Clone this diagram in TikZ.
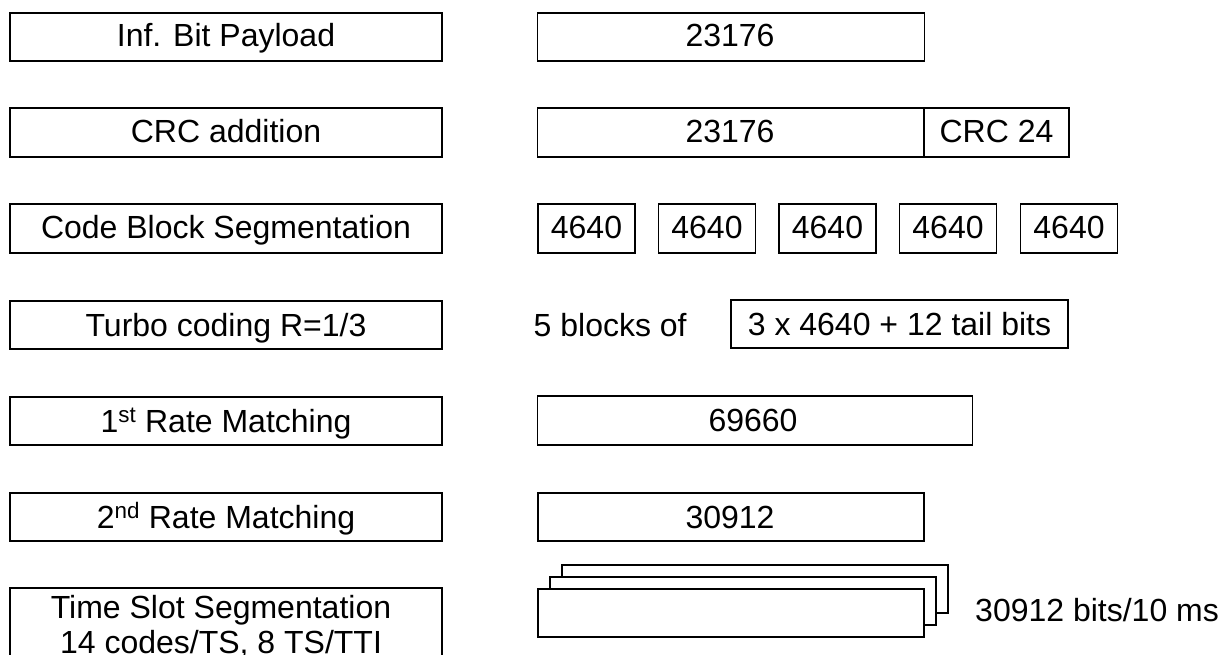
\documentclass[tikz,border=0pt]{standalone}
\usepackage{fontspec}
\setmainfont{Liberation Sans}
\begin{document}
\begin{tikzpicture}[x=1pt,y=-1pt,
  box/.style={draw, line width=1.5pt, inner sep=0pt, fill=white},
  lbl/.style={anchor=base, inner sep=0pt, font=\fontsize{32}{36}\selectfont}]
\clip (0,0) rectangle (1221,655);
\fill[white] (0,0) rectangle (1221,655);
% left column
\node[box, minimum width=432pt, minimum height=48pt] (l1) at (226,37) {};
\node[box, minimum width=432pt, minimum height=49pt] (l2) at (226,132.5) {};
\node[box, minimum width=432pt, minimum height=49pt] (l3) at (226,228.5) {};
\node[box, minimum width=432pt, minimum height=48pt] (l4) at (226,325) {};
\node[box, minimum width=432pt, minimum height=48pt] (l5) at (226,421) {};
\node[box, minimum width=432pt, minimum height=48pt] (l6) at (226,517) {};
\node[box, minimum width=432pt, minimum height=102pt] (l7) at (226,639) {};
\node[lbl] (t1) at (226,47) {Inf. Bit Payload};
\node[lbl] (t2) at (226,143) {CRC addition};
\node[lbl] (t3) at (226,239) {Code Block Segmentation};
\node[lbl] (t4) at (226,336) {Turbo coding R=1/3};
\node[lbl] (t5) at (226,432) {1\textsuperscript{st} Rate Matching};
\node[lbl] (t6) at (226,528) {2\textsuperscript{nd} Rate Matching};
\node[lbl] (t7a) at (221,618) {Time Slot Segmentation};
\node[lbl] (t7b) at (221,653) {14 codes/TS, 8 TS/TTI};
% right column
\node[box, minimum width=387pt, minimum height=48pt] (r1) at (731,37) {};
\node[lbl] (n1) at (730,47) {23176};
\node[box, minimum width=387pt, minimum height=49pt] (r2a) at (731,132.5) {};
\node[box, minimum width=145pt, minimum height=49pt] (r2b) at (996.5,132.5) {};
\node[lbl] (n2a) at (730,143) {23176};
\node[lbl] (n2b) at (996.5,143) {CRC 24};
\foreach \i/\x in {1/586.5,2/707,3/827.5,4/948,5/1069}{
  \node[box, minimum width=97pt, minimum height=49pt] (cb\i) at (\x,228.5) {};
  \node[lbl] (cbt\i) at (\x,239) {4640};
}
\node[lbl, anchor=base west] (five) at (533.5,336) {5 blocks of};
\node[box, minimum width=337pt, minimum height=48pt] (r4) at (899.5,324) {};
\node[lbl] (n4) at (899.5,335) {3 x 4640 + 12 tail bits};
\node[box, minimum width=435pt, minimum height=49pt] (r5) at (755,420.5) {};
\node[lbl] (n5) at (753,431.5) {69660};
\node[box, minimum width=386pt, minimum height=48pt] (r6) at (731,517) {};
\node[lbl] (n6) at (730,528) {30912};
% stacked slots
\node[box, minimum width=386pt, minimum height=48pt] (s3) at (755,589) {};
\node[box, minimum width=386pt, minimum height=48pt] (s2) at (743,601) {};
\node[box, minimum width=386pt, minimum height=48pt] (s1) at (731,613) {};
\node[lbl, anchor=base west] (rate) at (975,621) {30912 bits/10 ms};
\end{tikzpicture}
\end{document}
